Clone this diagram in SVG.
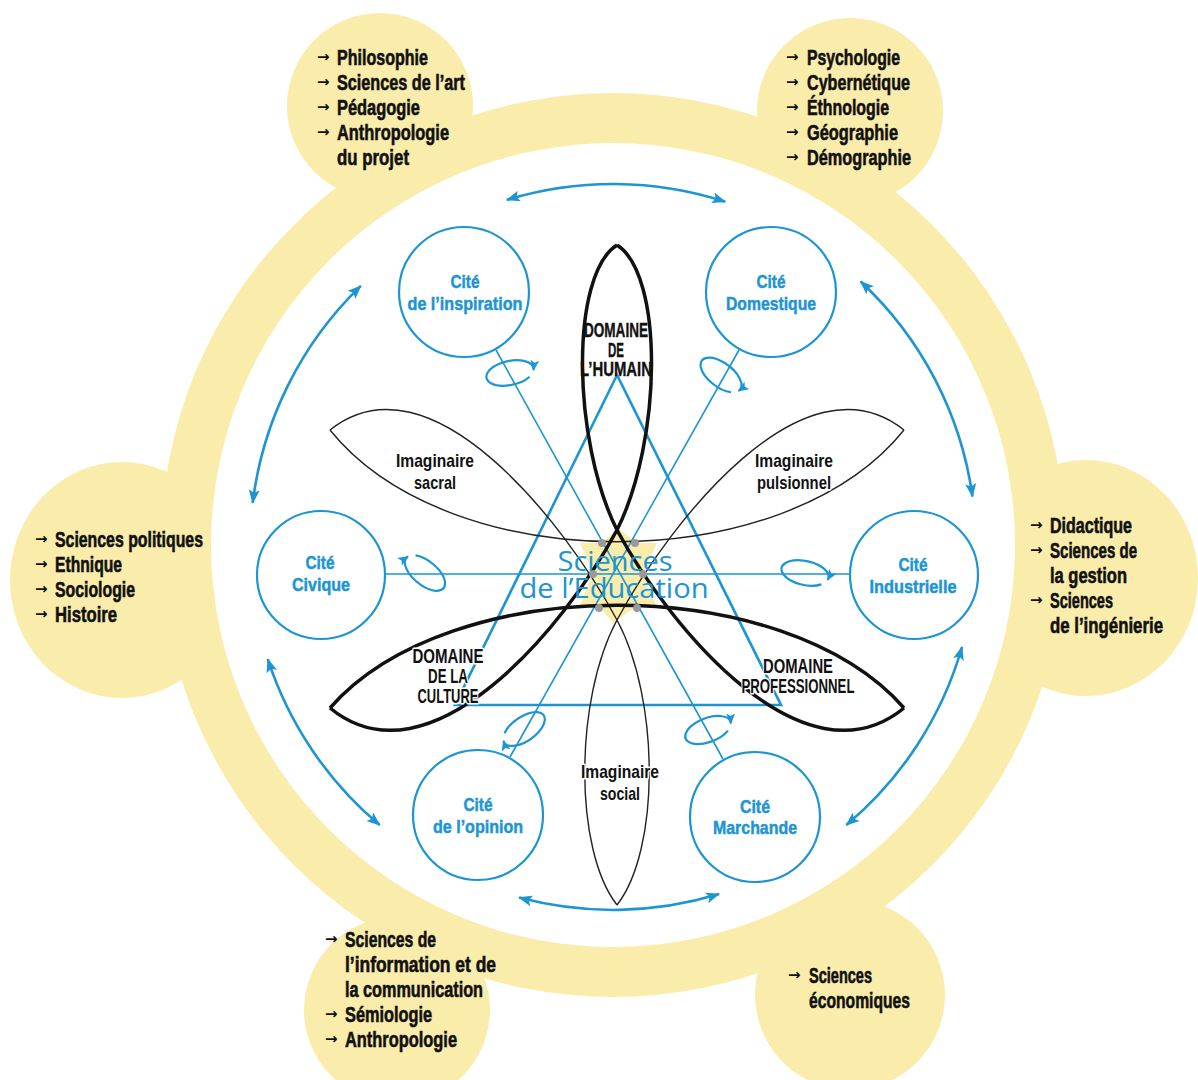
<svg xmlns="http://www.w3.org/2000/svg" width="1198" height="1080" viewBox="0 0 1198 1080">
<style>
.yel{fill:#faecab}
.blue{stroke:#1d95d3;fill:none}
.cite{fill:#fff;stroke:#1d95d3;stroke-width:2.2}
.ct{font-family:"Liberation Sans",Arial,sans-serif;font-weight:bold;font-size:19px;fill:#1d95d3;text-anchor:middle;stroke:#1d95d3;stroke-width:0.5}
.bt{font-family:"Liberation Sans",Arial,sans-serif;font-weight:bold;font-size:22px;fill:#111;stroke:#111;stroke-width:0.6}
.ar{font-family:"DejaVu Sans","Liberation Sans",sans-serif;font-weight:bold;font-size:15px;fill:#111}
.pl{font-family:"Liberation Sans",Arial,sans-serif;font-weight:bold;fill:#111;text-anchor:middle;stroke:#fff;stroke-width:3;paint-order:stroke;stroke-linejoin:round}
.ph{font-family:"Liberation Sans",Arial,sans-serif;font-weight:bold;fill:#111;text-anchor:middle;stroke:#111;stroke-width:0.4}
.thick{fill:none;stroke:#111;stroke-width:3.5}
.thin{fill:none;stroke:#222;stroke-width:1.4}
.dot{fill:#9a9a9a}
</style>
<defs>
<marker id="ah" viewBox="0 0 14 11" refX="13" refY="5.5" markerWidth="14" markerHeight="11" markerUnits="userSpaceOnUse" orient="auto-start-reverse">
<path d="M0,0 L14,5.5 L0,11 L3,5.5 z" fill="#1d95d3"/>
</marker>
<marker id="ah2" viewBox="0 0 11 9" refX="10" refY="4.5" markerWidth="11" markerHeight="9" markerUnits="userSpaceOnUse" orient="auto">
<path d="M0,0 L11,4.5 L0,9 L2.5,4.5 z" fill="#1d95d3"/>
</marker>
</defs>
<rect width="1198" height="1080" fill="#fff"/>
<g id="ring">
<circle class="yel" cx="613" cy="545" r="452"/>
<circle class="yel" cx="380" cy="106" r="93"/>
<circle class="yel" cx="850" cy="111" r="93"/>
<ellipse class="yel" cx="122" cy="580" rx="112" ry="118"/>
<ellipse class="yel" cx="1086" cy="578" rx="112" ry="118"/>
<circle class="yel" cx="397" cy="1010" r="93"/>
<circle class="yel" cx="850" cy="995" r="95"/>
<circle cx="613" cy="545" r="402" fill="#fff"/>
</g>
<g id="center-star">
<polygon class="yel" points="618,528 636,543 657,543 643,574 656,605 637,606 613,623 599,606 580,605 593,574 580,543 602,543"/>
</g>
<g id="connectors">
<line class="blue" stroke-width="1.6" x1="496" y1="350" x2="723" y2="759"/>
<line class="blue" stroke-width="1.6" x1="739" y1="350" x2="510" y2="757"/>
<line class="blue" stroke-width="1.6" x1="385" y1="574" x2="850" y2="574"/>
<polygon class="blue" stroke-width="2.6" points="617,375 455,705 781,705"/>
<g class="blue" stroke-width="2.6">
<path d="M506.9,199.9 A363,363 0 0 1 725.2,201.8" marker-start="url(#ah)" marker-end="url(#ah)"/>
<path d="M860.6,281.5 A363,363 0 0 1 972.5,496.5" marker-start="url(#ah)" marker-end="url(#ah)"/>
<path d="M962,647 A363,363 0 0 1 846.3,825.1" marker-start="url(#ah)" marker-end="url(#ah)"/>
<path d="M719.1,894.1 A363,363 0 0 1 519.1,897.6" marker-start="url(#ah)" marker-end="url(#ah)"/>
<path d="M379.7,825.1 A363,363 0 0 1 267.8,659.2" marker-start="url(#ah)" marker-end="url(#ah)"/>
<path d="M252.7,502.8 A363,363 0 0 1 360.8,285.9" marker-start="url(#ah)" marker-end="url(#ah)"/>
</g>
<g class="blue" stroke-width="2.2">
<path transform="translate(510,373) rotate(-12)" d="M18.38,7.71 A24,12 0 1 1 23.64,2.08" marker-end="url(#ah2)"/>
<path transform="translate(721,375) rotate(37)" d="M18.38,7.71 A24,12 0 1 1 23.64,2.08" marker-end="url(#ah2)"/>
<path transform="translate(425,573) rotate(219)" d="M18.38,7.71 A24,12 0 1 1 23.64,2.08" marker-end="url(#ah2)"/>
<path transform="translate(805,573) rotate(12)" d="M18.38,7.71 A24,12 0 1 1 23.64,2.08" marker-end="url(#ah2)"/>
<path transform="translate(524,729) rotate(145)" d="M18.38,7.71 A24,12 0 1 1 23.64,2.08" marker-end="url(#ah2)"/>
<path transform="translate(708,730) rotate(-21)" d="M18.38,7.71 A24,12 0 1 1 23.64,2.08" marker-end="url(#ah2)"/>
</g>
</g>
<g id="imaginaires">
<path class="thin" d="M617,905 C574,850 574,700 617,620 C669,523 804,350 904,430"/>
<path class="thin" d="M617,905 C660,850 660,700 617,620 C565,523 430,350 330,430"/>
<path class="thin" d="M904,430 C784,579 450,579 330,430"/>
</g>
<g id="domaines">
<path class="thick" d="M617,245 C664,275 662,440 617,530 C565,627 430,790 330,708"/>
<path class="thick" d="M617,245 C570,275 572,440 617,530 C669,627 804,790 904,708"/>
<path class="thick" d="M330,708 C450,571 784,571 904,708"/>
</g>
<g id="dots">
<circle class="dot" cx="602" cy="543" r="4"/>
<circle class="dot" cx="635" cy="543" r="4"/>
<circle class="dot" cx="593" cy="574" r="4"/>
<circle class="dot" cx="643" cy="574" r="4"/>
<circle class="dot" cx="599" cy="608" r="4"/>
<circle class="dot" cx="637" cy="608" r="4"/>
</g>
<g id="sciences-education">
<text x="615" y="571" font-family="'Open Sans','Noto Sans',sans-serif" font-size="27" fill="#1d95d3" text-anchor="middle" textLength="115" lengthAdjust="spacingAndGlyphs">Sciences</text>
<text x="614" y="598" font-family="'Open Sans','Noto Sans',sans-serif" font-size="27" fill="#1d95d3" text-anchor="middle" textLength="189" lengthAdjust="spacingAndGlyphs">de l’Education</text>
</g>
<g id="domaine-humain">
<text class="ph" font-size="21" x="616" y="337" textLength="64" lengthAdjust="spacingAndGlyphs">DOMAINE</text>
<text class="ph" font-size="21" x="616" y="357" textLength="16" lengthAdjust="spacingAndGlyphs">DE</text>
<text class="ph" font-size="21" x="616" y="376" textLength="72" lengthAdjust="spacingAndGlyphs">L’HUMAIN</text>
</g>
<g id="domaine-culture">
<text class="pl" font-size="21" x="448" y="663" textLength="71" lengthAdjust="spacingAndGlyphs">DOMAINE</text>
<text class="pl" font-size="21" x="448" y="683" textLength="40" lengthAdjust="spacingAndGlyphs">DE LA</text>
<text class="pl" font-size="21" x="448" y="703" textLength="61" lengthAdjust="spacingAndGlyphs">CULTURE</text>
</g>
<g id="domaine-professionnel">
<text class="pl" font-size="21" x="798" y="673" textLength="70" lengthAdjust="spacingAndGlyphs">DOMAINE</text>
<text class="pl" font-size="21" x="798" y="693" textLength="113" lengthAdjust="spacingAndGlyphs">PROFESSIONNEL</text>
</g>
<g id="imaginaire-sacral">
<text class="pl" font-size="19" x="435" y="467" textLength="78" lengthAdjust="spacingAndGlyphs">Imaginaire</text>
<text class="pl" font-size="19" x="435" y="489" textLength="42" lengthAdjust="spacingAndGlyphs">sacral</text>
</g>
<g id="imaginaire-pulsionnel">
<text class="pl" font-size="19" x="794" y="467" textLength="78" lengthAdjust="spacingAndGlyphs">Imaginaire</text>
<text class="pl" font-size="19" x="794" y="489" textLength="74" lengthAdjust="spacingAndGlyphs">pulsionnel</text>
</g>
<g id="imaginaire-social">
<text class="pl" font-size="19" x="620" y="778" textLength="78" lengthAdjust="spacingAndGlyphs">Imaginaire</text>
<text class="pl" font-size="19" x="620" y="800" textLength="40" lengthAdjust="spacingAndGlyphs">social</text>
</g>
<g id="cite-inspiration">
<circle class="cite" cx="464" cy="292" r="65"/>
<text class="ct" x="465" y="288" textLength="29" lengthAdjust="spacingAndGlyphs">Cité</text>
<text class="ct" x="465" y="310" textLength="115" lengthAdjust="spacingAndGlyphs">de l’inspiration</text>
</g>
<g id="cite-domestique">
<circle class="cite" cx="771" cy="292" r="65"/>
<text class="ct" x="771" y="288" textLength="29" lengthAdjust="spacingAndGlyphs">Cité</text>
<text class="ct" x="771" y="310" textLength="90" lengthAdjust="spacingAndGlyphs">Domestique</text>
</g>
<g id="cite-civique">
<circle class="cite" cx="321" cy="575" r="64"/>
<text class="ct" x="320" y="569" textLength="29" lengthAdjust="spacingAndGlyphs">Cité</text>
<text class="ct" x="321" y="591" textLength="58" lengthAdjust="spacingAndGlyphs">Civique</text>
</g>
<g id="cite-industrielle">
<circle class="cite" cx="914" cy="575" r="64"/>
<text class="ct" x="913" y="571" textLength="29" lengthAdjust="spacingAndGlyphs">Cité</text>
<text class="ct" x="913" y="593" textLength="87" lengthAdjust="spacingAndGlyphs">Industrielle</text>
</g>
<g id="cite-opinion">
<circle class="cite" cx="478" cy="815" r="65"/>
<text class="ct" x="478" y="811" textLength="29" lengthAdjust="spacingAndGlyphs">Cité</text>
<text class="ct" x="478" y="833" textLength="90" lengthAdjust="spacingAndGlyphs">de l’opinion</text>
</g>
<g id="cite-marchande">
<circle class="cite" cx="755" cy="817" r="65"/>
<text class="ct" x="755" y="813" textLength="30" lengthAdjust="spacingAndGlyphs">Cité</text>
<text class="ct" x="755" y="834" textLength="84" lengthAdjust="spacingAndGlyphs">Marchande</text>
</g>
<g id="disciplines-top-left">
<text class="ar" x="317" y="62">→</text><text class="bt" x="337" y="65" textLength="91" lengthAdjust="spacingAndGlyphs">Philosophie</text>
<text class="ar" x="317" y="87">→</text><text class="bt" x="337" y="90" textLength="128" lengthAdjust="spacingAndGlyphs">Sciences de l’art</text>
<text class="ar" x="317" y="112">→</text><text class="bt" x="337" y="115" textLength="83" lengthAdjust="spacingAndGlyphs">Pédagogie</text>
<text class="ar" x="317" y="137">→</text><text class="bt" x="337" y="140" textLength="112" lengthAdjust="spacingAndGlyphs">Anthropologie</text>
<text class="bt" x="337" y="165" textLength="72" lengthAdjust="spacingAndGlyphs">du projet</text>
</g>
<g id="disciplines-top-right">
<text class="ar" x="786" y="62">→</text><text class="bt" x="807" y="65" textLength="93" lengthAdjust="spacingAndGlyphs">Psychologie</text>
<text class="ar" x="786" y="87">→</text><text class="bt" x="807" y="90" textLength="103" lengthAdjust="spacingAndGlyphs">Cybernétique</text>
<text class="ar" x="786" y="112">→</text><text class="bt" x="807" y="115" textLength="82" lengthAdjust="spacingAndGlyphs">Éthnologie</text>
<text class="ar" x="786" y="137">→</text><text class="bt" x="807" y="140" textLength="91" lengthAdjust="spacingAndGlyphs">Géographie</text>
<text class="ar" x="786" y="162">→</text><text class="bt" x="807" y="165" textLength="104" lengthAdjust="spacingAndGlyphs">Démographie</text>
</g>
<g id="disciplines-left">
<text class="ar" x="35" y="544">→</text><text class="bt" x="55" y="547" textLength="148" lengthAdjust="spacingAndGlyphs">Sciences politiques</text>
<text class="ar" x="35" y="569">→</text><text class="bt" x="55" y="572" textLength="67" lengthAdjust="spacingAndGlyphs">Ethnique</text>
<text class="ar" x="35" y="594">→</text><text class="bt" x="55" y="597" textLength="80" lengthAdjust="spacingAndGlyphs">Sociologie</text>
<text class="ar" x="35" y="619">→</text><text class="bt" x="55" y="622" textLength="62" lengthAdjust="spacingAndGlyphs">Histoire</text>
</g>
<g id="disciplines-right">
<text class="ar" x="1030" y="530">→</text><text class="bt" x="1050" y="533" textLength="82" lengthAdjust="spacingAndGlyphs">Didactique</text>
<text class="ar" x="1030" y="555">→</text><text class="bt" x="1050" y="558" textLength="87" lengthAdjust="spacingAndGlyphs">Sciences de</text>
<text class="bt" x="1050" y="583" textLength="77" lengthAdjust="spacingAndGlyphs">la gestion</text>
<text class="ar" x="1030" y="605">→</text><text class="bt" x="1050" y="608" textLength="63" lengthAdjust="spacingAndGlyphs">Sciences</text>
<text class="bt" x="1050" y="633" textLength="113" lengthAdjust="spacingAndGlyphs">de l’ingénierie</text>
</g>
<g id="disciplines-bottom-left">
<text class="ar" x="325" y="944">→</text><text class="bt" x="345" y="947" textLength="91" lengthAdjust="spacingAndGlyphs">Sciences de</text>
<text class="bt" x="345" y="972" textLength="151" lengthAdjust="spacingAndGlyphs">l’information et de</text>
<text class="bt" x="345" y="997" textLength="138" lengthAdjust="spacingAndGlyphs">la communication</text>
<text class="ar" x="325" y="1019">→</text><text class="bt" x="345" y="1022" textLength="87" lengthAdjust="spacingAndGlyphs">Sémiologie</text>
<text class="ar" x="325" y="1044">→</text><text class="bt" x="345" y="1047" textLength="112" lengthAdjust="spacingAndGlyphs">Anthropologie</text>
</g>
<g id="disciplines-bottom-right">
<text class="ar" x="788" y="980">→</text><text class="bt" x="809" y="983" textLength="63" lengthAdjust="spacingAndGlyphs">Sciences</text>
<text class="bt" x="809" y="1008" textLength="101" lengthAdjust="spacingAndGlyphs">économiques</text>
</g>
</svg>
